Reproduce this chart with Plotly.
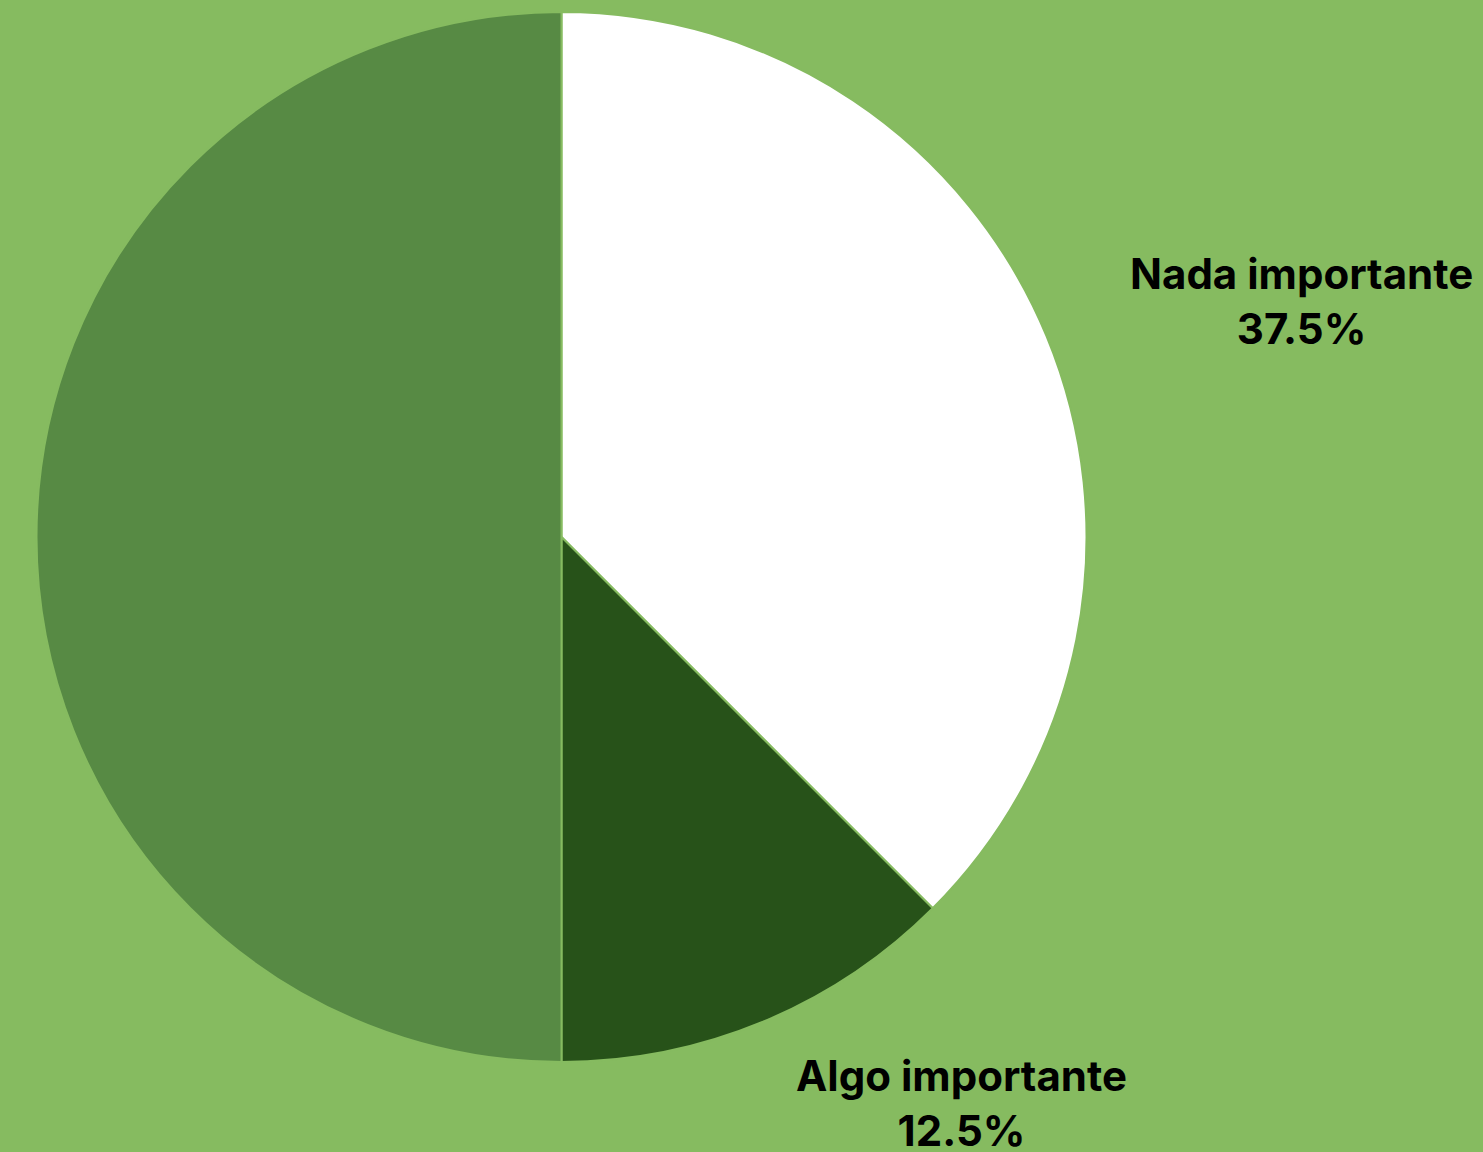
import plotly.graph_objects as go

# Response shares for how important the topic is rated
categories = ["Nada importante", "Algo importante", "Muy importante"]
shares = [37.5, 12.5, 50.0]
slice_colors = ["#FFFFFF", "#275219", "#578A44"]
show_label = [True, True, False]

BG = "#86BB60"

fig = go.Figure(
    go.Pie(
        labels=categories,
        values=shares,
        sort=False,
        direction="clockwise",
        rotation=0,
        marker=dict(colors=slice_colors, line=dict(color=BG, width=2)),
        textinfo="none",
        hoverinfo="skip",
        showlegend=False,
        domain=dict(x=[36 / 1483, 1087 / 1483], y=[90 / 1152, 1140 / 1152]),
    )
)

# Outside labels for the labelled slices
label_pos = {
    "Nada importante": (1301 / 1483, 1 - 301 / 1152),
    "Algo importante": (961 / 1483, 1 - 1103 / 1152),
}
for cat, val, show in zip(categories, shares, show_label):
    if not show:
        continue
    x, y = label_pos[cat]
    fig.add_annotation(
        x=x, y=y, xref="paper", yref="paper",
        text=f"<b>{cat}</b><br><b>{val:.1f}%</b>",
        showarrow=False, align="center",
        font=dict(family="Inter", size=42, color="#000000"),
        xanchor="center", yanchor="middle",
    )

fig.update_layout(
    width=1483, height=1152,
    margin=dict(l=0, r=0, t=0, b=0),
    paper_bgcolor=BG, plot_bgcolor=BG,
)

fig.write_html("out.html")
